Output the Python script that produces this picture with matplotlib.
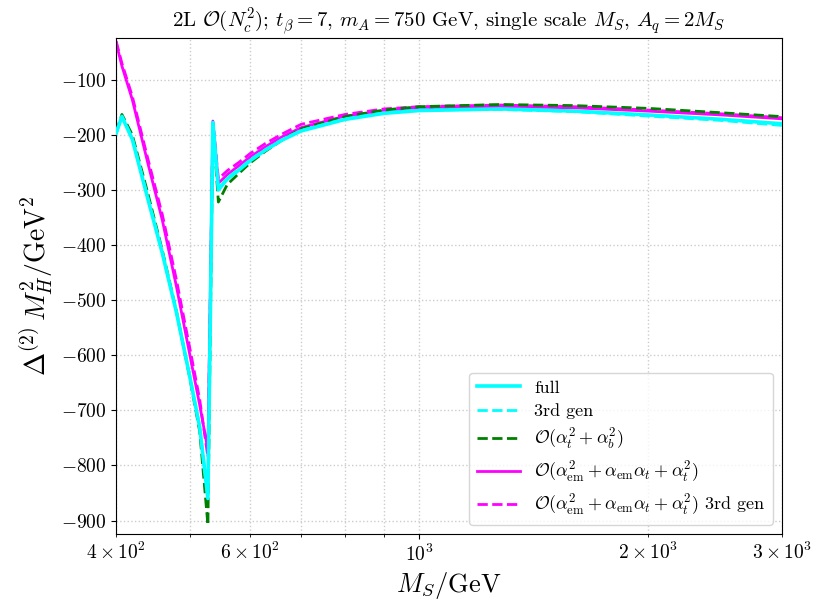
import matplotlib
matplotlib.use("Agg")
import matplotlib.pyplot as plt

plt.rcParams['font.family'] = 'serif'
plt.rcParams['font.serif'] = ['cmr10']
plt.rcParams['mathtext.fontset'] = 'cm'
plt.rcParams['axes.formatter.use_mathtext'] = True

# M_S scan points (GeV)
ms = [400, 407, 420, 440, 460, 480, 500, 515, 528, 536, 545, 560, 580, 600,
      628, 660, 700, 800, 900, 1000, 1280, 1600, 2000, 2500, 3000]

# Delta^(2) M_H^2 in GeV^2
full = [-197, -167, -208, -315, -415, -522, -640, -730, -860, -178, -300, -280, -264, -247,
        -228, -210, -193, -172, -161, -156, -153, -157, -164, -172, -180]
third_gen = [-198, -166, -206, -313, -414, -521, -639, -731, -858, -177, -298, -278, -262, -245,
             -227, -209, -192, -171, -160, -155, -154, -158, -166, -174, -183]
at_ab = [-195, -163, -200, -305, -410, -520, -642, -738, -908, -180, -322, -290, -270, -251,
         -230, -210, -189, -167, -155, -149, -145, -147, -152, -160, -167]
em_t = [-33, -75, -136, -250, -355, -475, -600, -690, -772, -175, -288, -272, -256, -240,
        -222, -204, -187, -166, -157, -152, -149, -151, -157, -164, -171]
em_t_third = [-30, -70, -130, -242, -345, -463, -588, -680, -785, -176, -280, -265, -250, -234,
              -216, -199, -181, -163, -153, -149, -146, -149, -155, -162, -169]

fig = plt.figure(figsize=(8.18, 6.10), dpi=100)
ax = fig.add_axes([0.142, 0.125, 0.814, 0.813])

# cyan curves sit on top of the others
ax.plot(ms, full, color='cyan', lw=2.6, label='full', zorder=4)
ax.plot(ms, third_gen, color='cyan', lw=2, ls='--', label='3rd gen', zorder=4.1)
ax.plot(ms, at_ab, color='green', lw=2, ls='--', label=r'$\mathcal{O}(\alpha_t^2+\alpha_b^2)$', zorder=3)
ax.plot(ms, em_t, color='magenta', lw=2, label=r'$\mathcal{O}(\alpha_\mathrm{em}^2+\alpha_\mathrm{em}\alpha_t+\alpha_t^2)$',
        zorder=2)
ax.plot(ms, em_t_third, color='magenta', lw=2, ls='--',
        label=r'$\mathcal{O}(\alpha_\mathrm{em}^2+\alpha_\mathrm{em}\alpha_t+\alpha_t^2)$ 3rd gen', zorder=2.1)

ax.set_xscale('log')
ax.set_xlim(400, 3000)
ax.set_ylim(-924, -24)
ax.grid(True, which='both', ls=':', color='0.8', lw=1)
ax.tick_params(which='both', labelsize=14)

ax.set_xlabel(r'$M_S/\mathrm{GeV}$', fontsize=19)
ax.set_ylabel(r'$\Delta^{(2)}\,M_H^2/\mathrm{GeV}^2$', fontsize=20)
ax.set_title(r'2L $\mathcal{O}(N_c^2)$; $t_\beta=7$, $m_A=750$ GeV, single scale $M_S$, $A_q=2M_S$',
             fontsize=15)
ax.legend(loc='lower right', fontsize=13, labelspacing=0.42, handlelength=2.4)

fig.savefig('out.png', dpi=100)
